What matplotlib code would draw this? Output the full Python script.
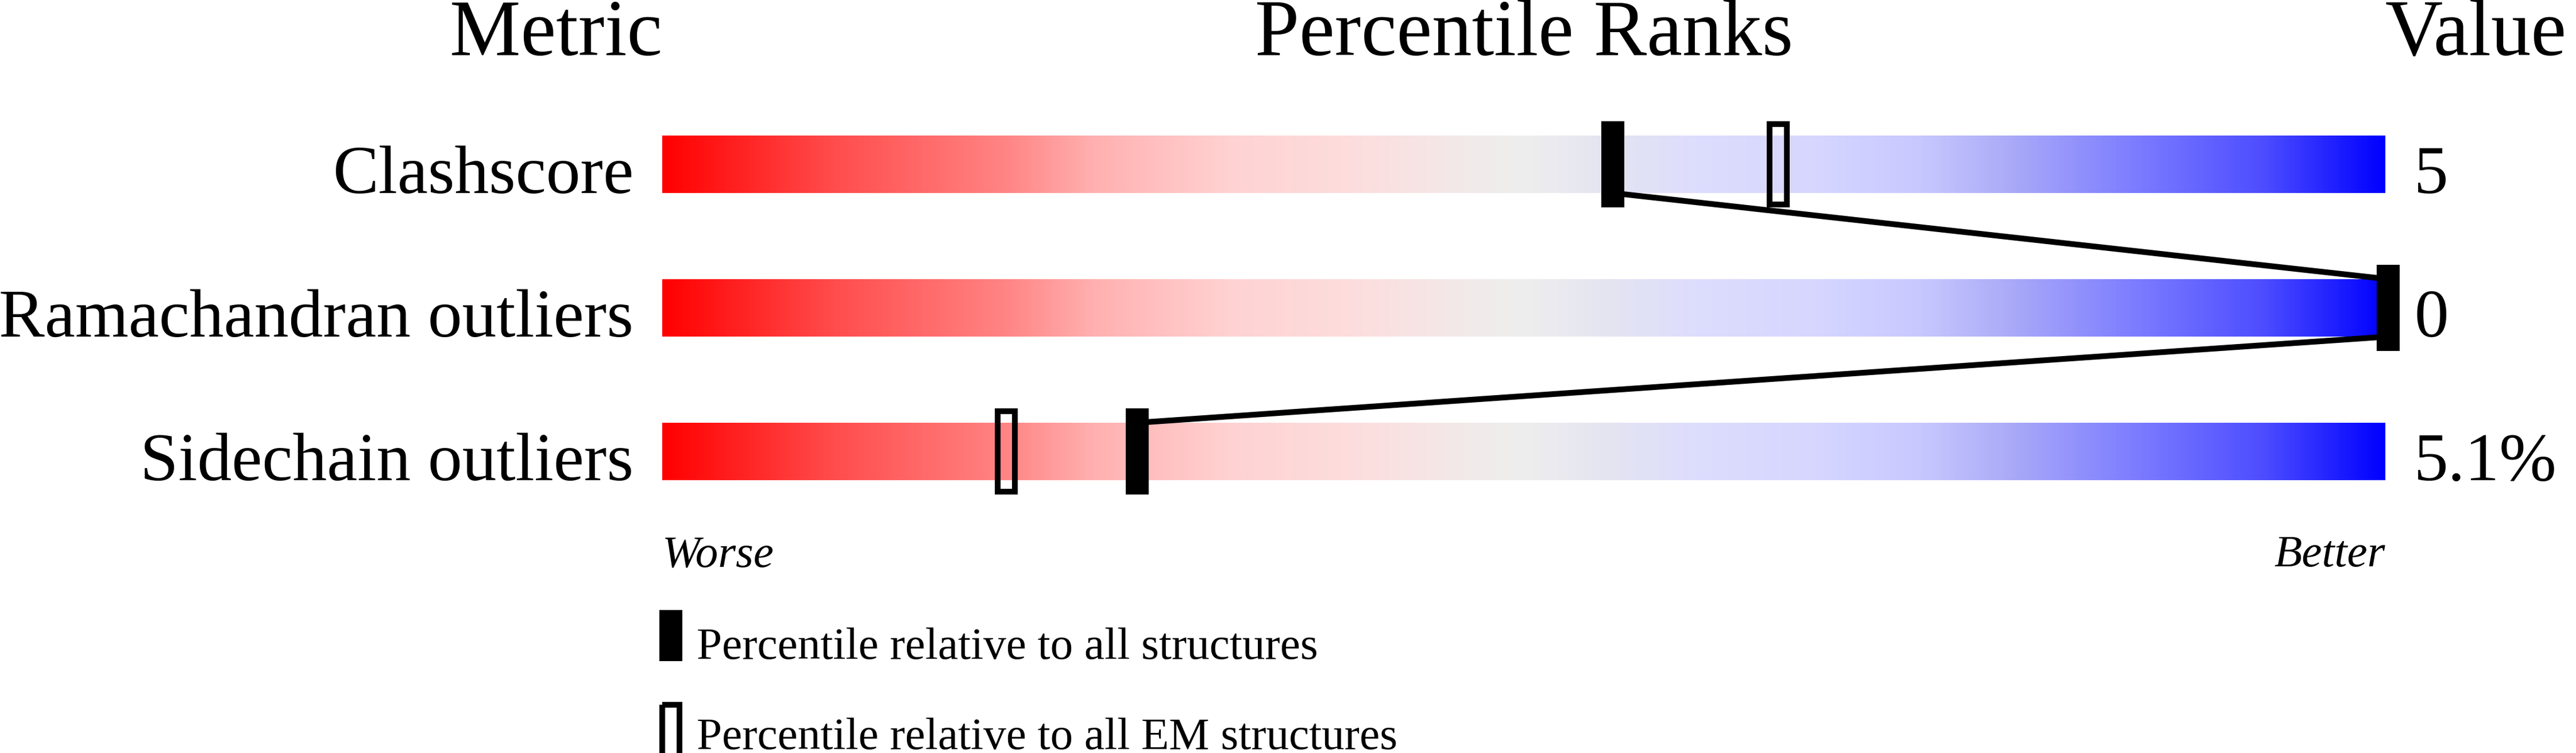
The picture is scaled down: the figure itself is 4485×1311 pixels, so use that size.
import matplotlib
matplotlib.use("Agg")
import matplotlib.pyplot as plt
import numpy as np
from matplotlib.colors import LinearSegmentedColormap
from matplotlib.patches import Rectangle

# ---------------- data ----------------
metrics = ["Clashscore", "Ramachandran outliers", "Sidechain outliers"]
values = ["5", "0", "5.1%"]
pct_all = [55.0, 100.0, 27.4]      # percentile relative to all structures
pct_em = [64.6, 100.0, 19.8]       # percentile relative to all EM structures
headers = ["Metric", "Percentile Ranks", "Value"]
legend_labels = ["Percentile relative to all structures",
                 "Percentile relative to all EM structures"]

# gradient colour stops (fraction, colour)
grad_stops = [(0.00, "#FF0000"), (0.10, "#FF4D4D"), (0.20, "#FF8585"),
              (0.25, "#FFB0B0"), (0.33, "#FFD2D2"), (0.40, "#FDDDDD"),
              (0.47, "#F2EAEA"), (0.50, "#EEEEEE"), (0.55, "#E4E4F2"),
              (0.60, "#DDDDFD"), (0.67, "#D6D6FF"), (0.73, "#C8C8FF"),
              (0.78, "#ACACF8"), (0.85, "#8080FF"), (0.93, "#4D4DFF"),
              (1.00, "#0000FF")]

# ---------------- layout ----------------
W, H, DPI = 4485, 1311, 100
bar_left_px, px_per_unit = 1153, 30.0      # bar spans 0..100 -> 1153..4153 px
row0_px, row_step_px = 286, 250            # bar centres
bar_h = 100 / row_step_px
mark_h = 150 / row_step_px
mark_w = 40 / px_per_unit
mark_off = 5 / px_per_unit
lw_pt = 10 * 72 / DPI

plt.rcParams["font.family"] = ["Liberation Serif", "DejaVu Serif"]

fig = plt.figure(figsize=(W / DPI, H / DPI), dpi=DPI)
ax = fig.add_axes([0, 0, 1, 1])
ax.set_xlim(-bar_left_px / px_per_unit, (W - bar_left_px) / px_per_unit)
ax.set_ylim((H - row0_px) / row_step_px, -row0_px / row_step_px)
ax.axis("off")

cmap = LinearSegmentedColormap.from_list("slider", grad_stops, N=512)
grad = np.linspace(0, 1, 1024).reshape(1, -1)

rows = np.arange(len(metrics))
for r in rows:
    ax.imshow(grad, cmap=cmap, aspect="auto", interpolation="bilinear",
              extent=[0, 100, r + bar_h / 2, r - bar_h / 2], zorder=1)

# connecting line (all-structures markers)
xs, ys = [], []
for i, r in enumerate(rows):
    cx = pct_all[i] + mark_off
    if i > 0:
        xs.append(cx); ys.append(r - bar_h / 2)
    if i < len(rows) - 1:
        xs.append(cx); ys.append(r + bar_h / 2)
ax.plot(xs, ys, color="black", lw=lw_pt, solid_capstyle="butt",
        solid_joinstyle="miter", zorder=2)

inset_x = 5 / px_per_unit
inset_y = 5 / row_step_px
for i, r in enumerate(rows):
    cx = pct_em[i] + mark_off
    ax.add_patch(Rectangle((cx - mark_w / 2 + inset_x, r - mark_h / 2 + inset_y),
                           mark_w - 2 * inset_x, mark_h - 2 * inset_y,
                           fill=False, edgecolor="black", lw=lw_pt,
                           joinstyle="miter", zorder=3))
    cx = pct_all[i] + mark_off
    ax.add_patch(Rectangle((cx - mark_w / 2, r - mark_h / 2), mark_w, mark_h,
                           facecolor="black", edgecolor="none", zorder=4))

big, mid, small = 100, 86, 57
gap = 50 / px_per_unit
for i, r in enumerate(rows):
    ax.text(-gap, r + bar_h / 2, metrics[i], ha="right", va="baseline",
            fontsize=mid)
    ax.text(100 + gap, r + bar_h / 2, values[i], ha="left", va="baseline",
            fontsize=mid)

head_y = (96 - row0_px) / row_step_px
ax.text(0, head_y, headers[0], ha="right", va="baseline", fontsize=big)
ax.text(50, head_y, headers[1], ha="center", va="baseline", fontsize=big)
ax.text(100, head_y, headers[2], ha="left", va="baseline", fontsize=big)

wb_y = (986 - row0_px) / row_step_px
ax.text(0, wb_y, "Worse", ha="left", va="baseline", fontsize=small,
        style="italic")
ax.text(100, wb_y, "Better", ha="right", va="baseline", fontsize=small,
        style="italic")

# legend
leg_top_px = [1062, 1222]
leg_base_px = [1147, 1304]
leg_cx = 15 / px_per_unit
for k in range(2):
    top = (leg_top_px[k] - row0_px) / row_step_px
    hh = 89 / row_step_px
    if k == 0:
        ax.add_patch(Rectangle((leg_cx - mark_w / 2, top), mark_w, hh,
                               facecolor="black", edgecolor="none"))
    else:
        ax.add_patch(Rectangle((leg_cx - mark_w / 2 + inset_x, top + inset_y),
                               mark_w - 2 * inset_x, hh,
                               fill=False, edgecolor="black", lw=lw_pt,
                               joinstyle="miter", clip_on=False))
    ax.text(60 / px_per_unit, (leg_base_px[k] - row0_px) / row_step_px,
            legend_labels[k], ha="left", va="baseline", fontsize=small)

fig.savefig("out.png", dpi=DPI, facecolor="white")
